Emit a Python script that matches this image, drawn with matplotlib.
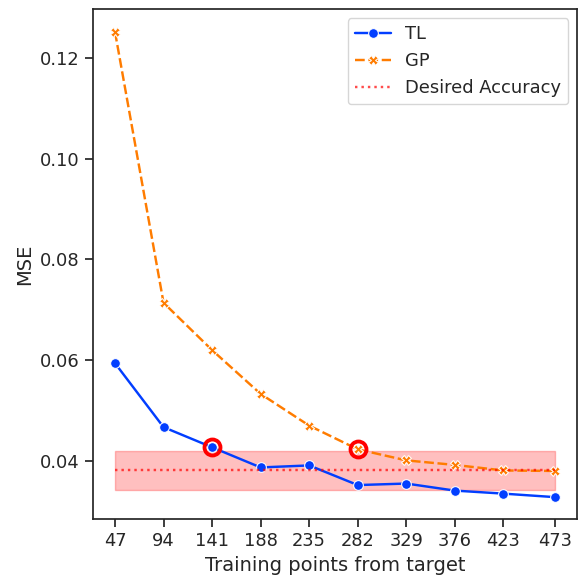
import numpy as np
import pandas as pd
import matplotlib
matplotlib.use("Agg")
import matplotlib.pyplot as plt
import seaborn as sns

# training points from target
n_points = [47, 94, 141, 188, 235, 282, 329, 376, 423, 473]

# MSE values
mse_tl = [0.0594, 0.0467, 0.0427, 0.0387, 0.0391, 0.0352, 0.0355, 0.0341, 0.0335, 0.0328]
mse_gp = [0.1252, 0.0714, 0.0620, 0.0533, 0.0470, 0.0423, 0.0401, 0.0392, 0.0381, 0.0380]

desired = 0.0381
tol = 0.10  # +-10% band

# points where each model first reaches the band
hit_x = [141, 282]
hit_y = [0.0427, 0.0423]

sns.set_theme(style="ticks", context="notebook", font_scale=1.17)
plt.rcParams['font.family'] = ['DejaVu Sans']

pal = sns.color_palette("bright")

fig = plt.figure(figsize=(5.79, 5.79), dpi=100)
ax = fig.add_axes([0.1606, 0.1031, 0.836, 0.881])

ax.plot(n_points, mse_tl, color=pal[0], marker='o', markersize=7,
        markeredgecolor='white', markeredgewidth=0.75, lw=1.75, label='TL')
ax.plot(n_points, mse_gp, color=pal[1], marker='X', markersize=6.5,
        markeredgecolor='white', markeredgewidth=0.75, lw=1.75,
        dashes=(4, 1.5), label='GP')
ax.plot(n_points, [desired]*len(n_points), color='red', ls=':', lw=1.75,
        alpha=0.7, label='Desired Accuracy')
ax.fill_between(n_points, desired*(1-tol), desired*(1+tol), color='red', alpha=0.25)

ax.plot(hit_x, hit_y, ls='none', marker='o', markersize=11.5, markerfacecolor='none',
        markeredgecolor='red', markeredgewidth=2.75)

ax.set_xticks(n_points)
ax.set_yticks([0.04, 0.06, 0.08, 0.10, 0.12])
ax.set_ylim(0.0284, 0.1297)
ax.set_xlabel('Training points from target')
ax.set_ylabel('MSE')
ax.legend(loc='upper right')

fig.savefig('out.png', dpi=100)
